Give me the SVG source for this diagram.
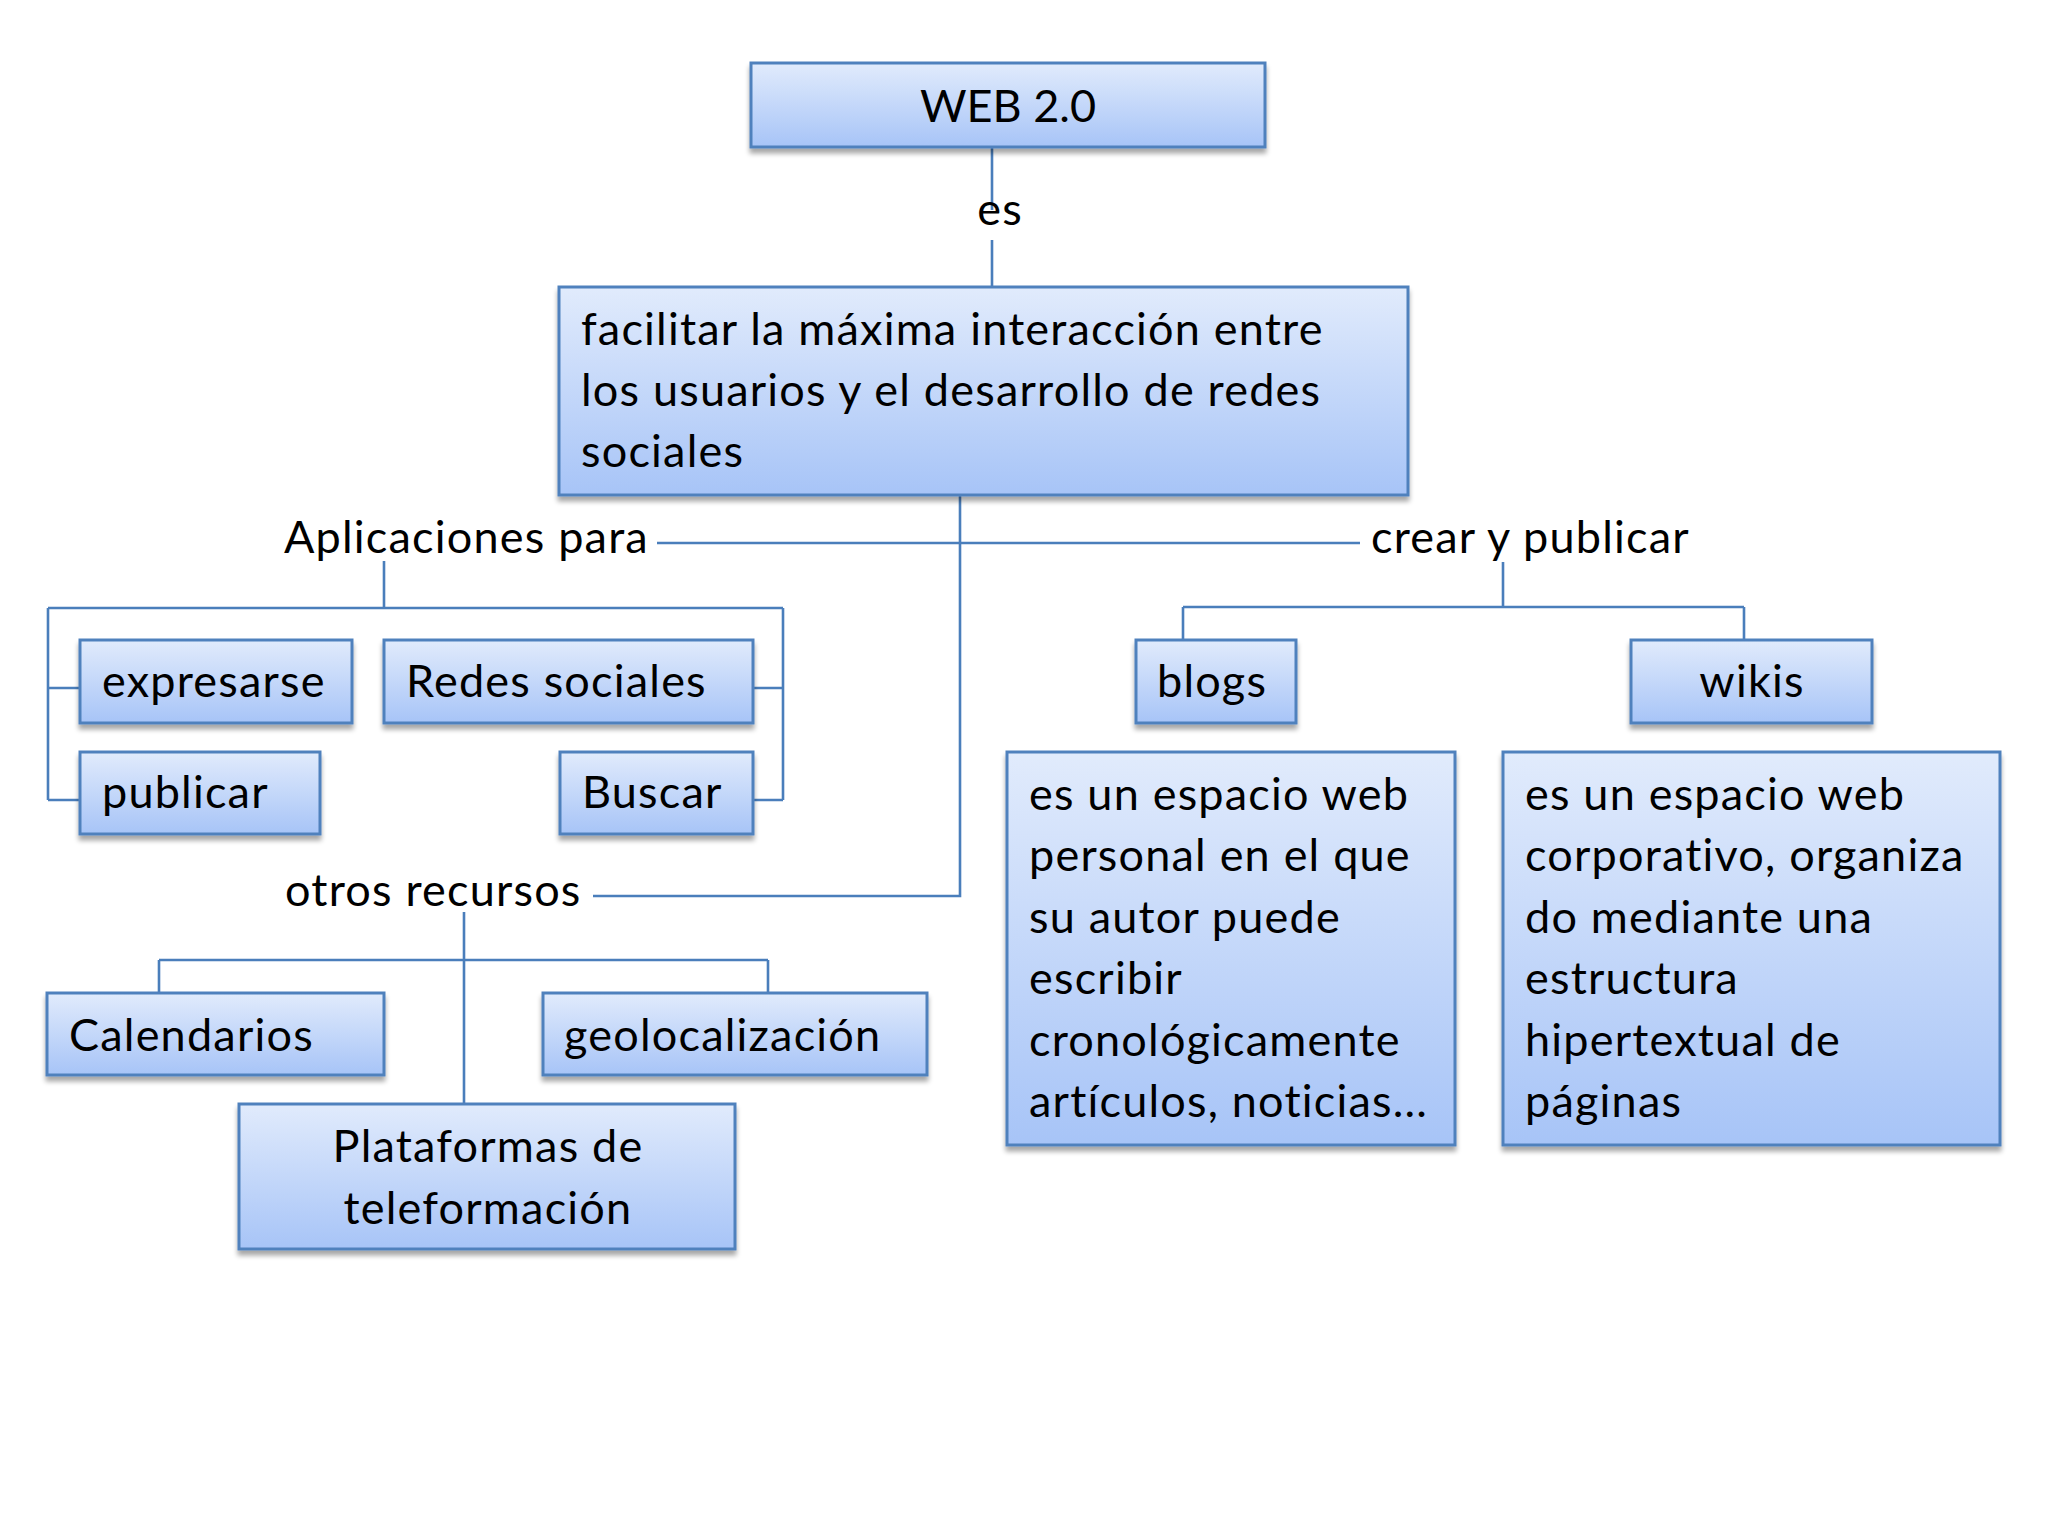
<svg xmlns="http://www.w3.org/2000/svg" width="2048" height="1536" viewBox="0 0 2048 1536">
<defs>
<linearGradient id="g" x1="0" y1="0" x2="0" y2="1">
<stop offset="0" stop-color="#e1ebfc"/>
<stop offset="1" stop-color="#a7c4f7"/>
</linearGradient>
<filter id="sh" x="-5%" y="-5%" width="110%" height="130%">
<feGaussianBlur in="SourceAlpha" stdDeviation="2.5"/>
<feOffset dx="0" dy="5" result="b"/>
<feComponentTransfer><feFuncA type="linear" slope="0.35"/></feComponentTransfer>
<feMerge><feMergeNode/><feMergeNode in="SourceGraphic"/></feMerge>
</filter>
</defs>
<style>
.box{fill:url(#g);stroke:#4f81bd;stroke-width:3;filter:url(#sh)}
.t{font-family:Lato,"Open Sans","Liberation Sans",sans-serif;font-size:45px;fill:#000;letter-spacing:1.2px}
.c{text-anchor:middle}
.ln{fill:none;stroke:#4a7ebb;stroke-width:2.6}
</style>
<rect width="2048" height="1536" fill="#ffffff"/>
<g id="connectors">
<path class="ln" d="M992 146 V210 M992 240 V287"/>
<path class="ln" d="M960 495 V896 H593"/>
<path class="ln" d="M657 543 H1360"/>
<path class="ln" d="M384 561 V608 M48 608 H783 M48 608 V800 M48 688 H80 M48 800 H80 M783 608 V800 M753 688 H783 M753 800 H783"/>
<path class="ln" d="M1503 562 V607 M1183 607 H1744 M1183 607 V640 M1744 607 V640"/>
<path class="ln" d="M464 912 V1104 M159 960 H768 M159 960 V993 M768 960 V993"/>
</g>
<g id="n-web">
<rect class="box" x="751" y="63" width="514" height="84"/>
<text class="t c" x="1008" y="122" style="letter-spacing:0">WEB 2.0</text>
</g>
<g id="l-es"><text class="t c" x="1000" y="225">es</text></g>
<g id="n-facilitar">
<rect class="box" x="559" y="287" width="849" height="208"/>
<text class="t" x="581" y="345">facilitar la máxima interacción entre</text>
<text class="t" x="581" y="406">los usuarios y el desarrollo de redes</text>
<text class="t" x="581" y="467">sociales</text>
</g>
<g id="l-aplicaciones"><text class="t" x="284" y="553">Aplicaciones para</text></g>
<g id="l-crear"><text class="t" x="1371" y="553">crear y publicar</text></g>
<g id="n-expresarse">
<rect class="box" x="80" y="640" width="272" height="83"/>
<text class="t" x="102" y="697">expresarse</text>
</g>
<g id="n-redes">
<rect class="box" x="384" y="640" width="369" height="83"/>
<text class="t" x="406" y="697">Redes sociales</text>
</g>
<g id="n-publicar">
<rect class="box" x="80" y="752" width="240" height="82"/>
<text class="t" x="102" y="808">publicar</text>
</g>
<g id="n-buscar">
<rect class="box" x="560" y="752" width="193" height="82"/>
<text class="t" x="582" y="808">Buscar</text>
</g>
<g id="n-blogs">
<rect class="box" x="1136" y="640" width="160" height="83"/>
<text class="t" x="1157" y="697">blogs</text>
</g>
<g id="n-wikis">
<rect class="box" x="1631" y="640" width="241" height="83"/>
<text class="t c" x="1752" y="697">wikis</text>
</g>
<g id="n-blogdesc">
<rect class="box" x="1007" y="752" width="448" height="393"/>
<text class="t" x="1029" y="810">es un espacio web</text>
<text class="t" x="1029" y="871">personal en el que</text>
<text class="t" x="1029" y="933">su autor puede</text>
<text class="t" x="1029" y="994">escribir</text>
<text class="t" x="1029" y="1056">cronológicamente</text>
<text class="t" x="1029" y="1117">artículos, noticias...</text>
</g>
<g id="n-wikidesc">
<rect class="box" x="1503" y="752" width="497" height="393"/>
<text class="t" x="1525" y="810">es un espacio web</text>
<text class="t" x="1525" y="871">corporativo, organiza</text>
<text class="t" x="1525" y="933">do mediante una</text>
<text class="t" x="1525" y="994">estructura</text>
<text class="t" x="1525" y="1056">hipertextual de</text>
<text class="t" x="1525" y="1117">páginas</text>
</g>
<g id="l-otros"><text class="t" x="285" y="906">otros recursos</text></g>
<g id="n-calendarios">
<rect class="box" x="47" y="993" width="337" height="82"/>
<text class="t" x="69" y="1051">Calendarios</text>
</g>
<g id="n-geo">
<rect class="box" x="543" y="993" width="384" height="82"/>
<text class="t" x="564" y="1051">geolocalización</text>
</g>
<g id="n-plataformas">
<rect class="box" x="239" y="1104" width="496" height="145"/>
<text class="t c" x="488" y="1162">Plataformas de</text>
<text class="t c" x="488" y="1224">teleformación</text>
</g>
</svg>
